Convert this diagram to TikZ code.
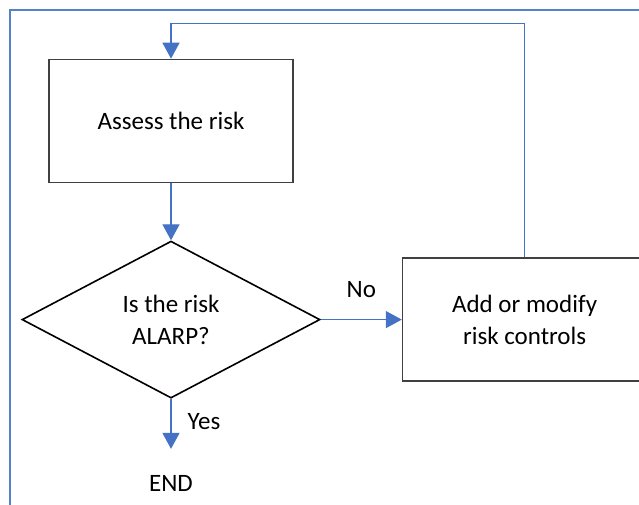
\documentclass[tikz,border=0pt]{standalone}
\usepackage{fontspec}
\setmainfont{Carlito}
\usetikzlibrary{arrows.meta,positioning,shapes.geometric}
\definecolor{flowblue}{RGB}{68,114,196}
\definecolor{frameblue}{RGB}{84,130,200}
\definecolor{boxgray}{RGB}{64,64,64}

\begin{document}
\begin{tikzpicture}[
  x=1pt,
  y=1pt,
  font=\fontsize{25}{32}\selectfont,
  stepbox/.style={
    draw=boxgray,
    line width=1.6pt,
    minimum width=244pt,
    minimum height=123pt,
    align=center,
    inner sep=2pt
  },
  decision/.style={
    diamond,
    draw=black,
    line width=1.6pt,
    aspect=1.9,
    minimum width=298pt,
    minimum height=157pt,
    align=center,
    inner sep=0pt
  },
  arr/.style={
    -{Triangle[length=16pt,width=17pt]},
    flowblue,
    line width=1.4pt
  },
  lbl/.style={
    text=black,
    inner sep=2pt
  }
]
\useasboundingbox (0,0) rectangle (639,505);

\draw[frameblue, line width=2pt] (10,0) -- (10,495) -- (639,495);

\node[stepbox] (assess) at (171,384) {Assess the risk};

\node[decision, below=57pt of assess] (alarp) {Is the risk\\ ALARP?};

\node[stepbox, right=81pt of alarp] (fix) {Add or modify\\ risk controls};

\node[lbl, below=74pt of alarp] (finish) {END};

\draw[arr] (assess) -- (alarp);
\draw[arr] (alarp) -- node[lbl, above=19pt] {No} (fix);
\draw[arr, shorten >=24pt] (alarp) -- node[lbl, right=14pt, pos=0.3] {Yes} (finish);

\draw[arr] (fix.north) -- ++(0,234) -| (assess.north);

\end{tikzpicture}
\end{document}
